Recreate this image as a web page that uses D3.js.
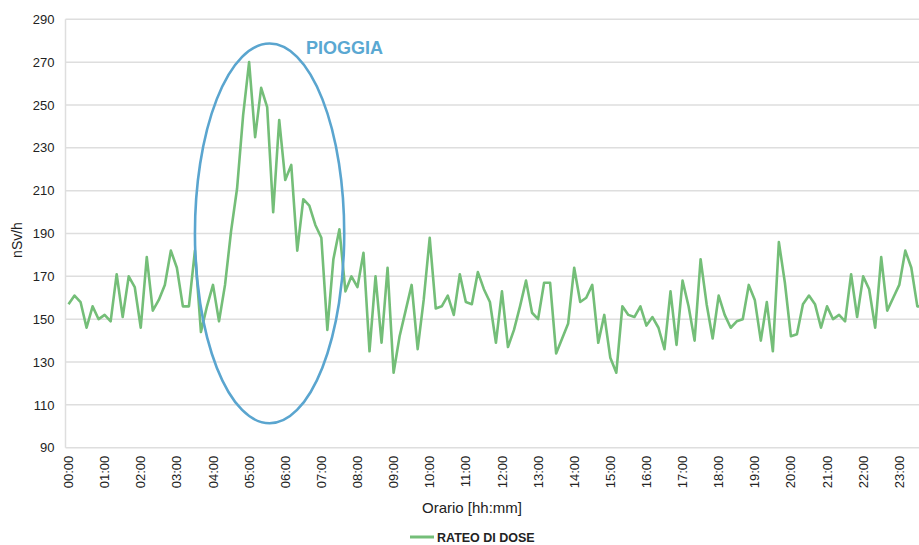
<!DOCTYPE html>
<html>
<head>
<meta charset="utf-8">
<script src="https://cdn.jsdelivr.net/npm/d3@7/dist/d3.min.js"></script>
<style>
  html, body { margin: 0; padding: 0; background: #fff; }
  svg { display: block; font-family: "Liberation Sans", Arial, Helvetica, sans-serif; }
</style>
</head>
<body>
<svg id="chart" width="919" height="545"></svg>
<script>
// ---- data ----
const seriesName = "RATEO DI DOSE";
const doseRate = [
  157,161,158,146,156,150,152,149,171,151,170,165,146,179,154,159,166,182,174,156,
  156,182,144,156,166,149,166,191,211,245,270,235,258,249,200,243,215,222,182,206,
  203,194,188,145,178,192,163,170,165,181,135,170,139,174,125,142,154,166,136,159,
  188,155,156,161,152,171,158,157,172,164,158,139,163,137,145,156,168,153,150,167,
  167,134,141,148,174,158,160,166,139,152,132,125,156,152,151,156,147,151,146,136,
  163,138,168,156,140,178,157,141,161,152,146,149,150,166,159,140,158,135,186,167,
  142,143,157,161,157,146,156,150,152,149,171,151,170,164,146,179,154,160,166,182,
  174,156,156
];
const tickLabels = ["00:00","01:00","02:00","03:00","04:00","05:00","06:00","07:00",
  "08:00","09:00","10:00","11:00","12:00","13:00","14:00","15:00","16:00","17:00",
  "18:00","19:00","20:00","21:00","22:00","23:00"];
const yTicks = [90,110,130,150,170,190,210,230,250,270,290];
// 10-minute categories for the full day
const times = [];
for (let h = 0; h < 24; h++) for (let m = 0; m < 60; m += 10)
  times.push(String(h).padStart(2,"0") + ":" + String(m).padStart(2,"0"));
// annotation (rain period)
const rainLabel = "PIOGGIA";
const rainSpan = { fromIndex: 21.0, toIndex: 45.8, low: 101.4, high: 278.7 };

(function draw() {
  const svg = d3.select("#chart");
  const pLeft = 65.5, pTop = 19.3, pBottom = 447.7;
  const step = 6.02;
  const x = d3.scaleBand().domain(times).range([pLeft, pLeft + step * times.length]);
  const y = d3.scaleLinear().domain([90, 290]).range([pBottom, pTop]);
  const xc = i => x(times[0]) + x.bandwidth() / 2 + i * x.step();

  // gridlines
  svg.append("g").selectAll("line").data(yTicks).join("line")
    .attr("x1", pLeft).attr("x2", 919)
    .attr("y1", d => y(d)).attr("y2", d => y(d))
    .attr("stroke", "#dedede").attr("stroke-width", 1.5);
  svg.append("line").attr("x1", pLeft).attr("x2", pLeft)
    .attr("y1", pTop).attr("y2", pBottom)
    .attr("stroke", "#dedede").attr("stroke-width", 1.5);

  // y axis
  const yAxis = svg.append("g").attr("transform", `translate(${pLeft},0)`)
    .call(d3.axisLeft(y).tickValues(yTicks).tickSize(0).tickPadding(11));
  yAxis.select(".domain").remove();
  yAxis.selectAll("text").attr("font-size", 13).attr("fill", "#222")
    .attr("font-family", "'Liberation Sans', Arial, sans-serif");

  // x axis
  const xAxis = svg.append("g").attr("transform", `translate(0,${pBottom})`)
    .call(d3.axisBottom(x).tickValues(tickLabels).tickSize(0).tickFormat(d => d));
  xAxis.select(".domain").remove();
  xAxis.selectAll("text")
    .attr("font-size", 13).attr("fill", "#222")
    .attr("font-family", "'Liberation Sans', Arial, sans-serif")
    .attr("text-anchor", "end")
    .attr("transform", "rotate(-90)")
    .attr("x", -8).attr("y", 0).attr("dy", "0.35em");

  // line
  const line = d3.line().x((d, i) => x(times[i]) + x.bandwidth() / 2).y(d => y(d));
  svg.append("path").datum(doseRate)
    .attr("d", line).attr("fill", "none")
    .attr("stroke", "#74be78").attr("stroke-width", 2.6)
    .attr("stroke-linejoin", "round");

  // rain annotation
  const ex1 = xc(rainSpan.fromIndex), ex2 = xc(rainSpan.toIndex);
  svg.append("ellipse")
    .attr("cx", (ex1 + ex2) / 2).attr("cy", (y(rainSpan.low) + y(rainSpan.high)) / 2)
    .attr("rx", (ex2 - ex1) / 2).attr("ry", (y(rainSpan.low) - y(rainSpan.high)) / 2)
    .attr("fill", "none").attr("stroke", "#5aa5cf").attr("stroke-width", 2.6);
  svg.append("text").attr("x", 306).attr("y", 54)
    .attr("font-size", 18).attr("font-weight", "bold").attr("fill", "#5aa8d2")
    .text(rainLabel);

  // axis titles
  svg.append("text").attr("transform", "translate(22,240) rotate(-90)")
    .attr("text-anchor", "middle").attr("font-size", 14).attr("fill", "#222")
    .text("nSv/h");
  svg.append("text").attr("x", 472).attr("y", 513)
    .attr("text-anchor", "middle").attr("font-size", 15).attr("fill", "#222")
    .text("Orario [hh:mm]");

  // legend
  svg.append("line").attr("x1", 410).attr("x2", 434).attr("y1", 537).attr("y2", 537)
    .attr("stroke", "#74be78").attr("stroke-width", 3);
  svg.append("text").attr("x", 437).attr("y", 541.5)
    .attr("font-size", 12.5).attr("font-weight", "bold").attr("fill", "#222")
    .text(seriesName);
})();
</script>
</body>
</html>
